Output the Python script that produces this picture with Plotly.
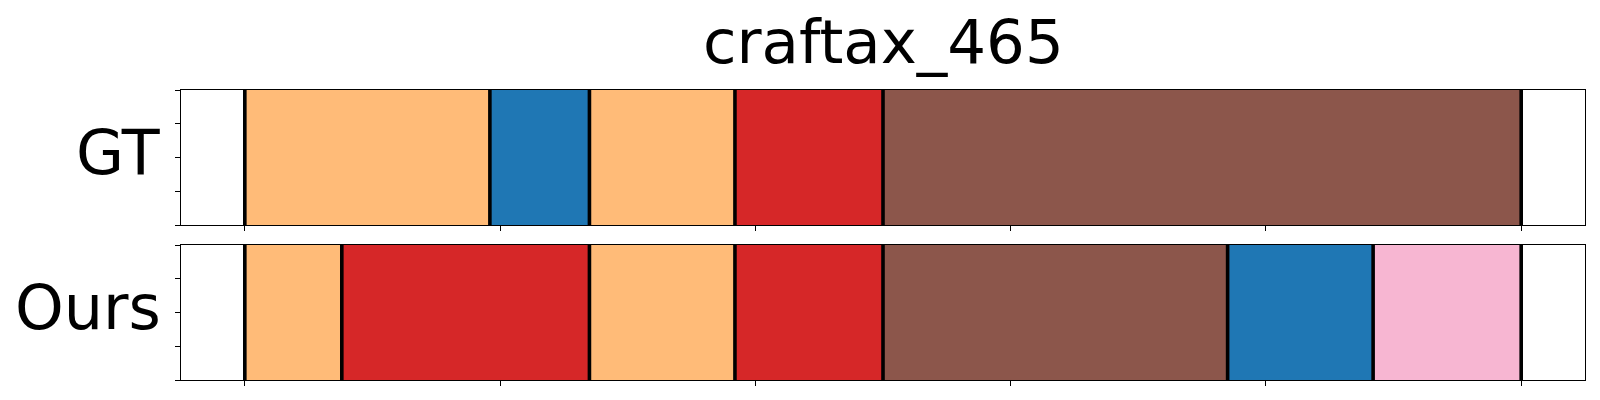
import plotly.graph_objects as go

title_text = "craftax_465"
row_labels = ["GT", "Ours"]

gt_starts = [0, 96, 135, 192, 250]
gt_ends = [96, 135, 192, 250, 500]
gt_colors = ["#ffbb78", "#1f77b4", "#ffbb78", "#d62728", "#8c564b"]

ours_starts = [0, 38, 135, 192, 250, 385, 442]
ours_ends = [38, 135, 192, 250, 385, 442, 500]
ours_colors = ["#ffbb78", "#d62728", "#ffbb78", "#d62728", "#8c564b", "#1f77b4", "#f7b6d2"]

x_ticks = [0, 100, 200, 300, 400, 500]
y_ticks = [0, 0.25, 0.5, 0.75, 1.0]

W, H = 1600, 400
left, right = 181, 1585
panels = [
    ("x", "y", gt_starts, gt_ends, gt_colors, 90, 225),
    ("x2", "y2", ours_starts, ours_ends, ours_colors, 245, 380),
]

fig = go.Figure()
layout = {}
for i, (xa, ya, starts, ends, colors, top, bot) in enumerate(panels):
    lengths = [e - s for s, e in zip(starts, ends)]
    fig.add_trace(go.Bar(
        orientation="h", y=[0.5] * len(starts), x=lengths, base=starts,
        width=1, marker=dict(color=colors, line=dict(width=0)),
        xaxis=xa, yaxis=ya, showlegend=False, hoverinfo="skip"))
    bounds = sorted(set(starts + ends))
    lx, ly = [], []
    for b in bounds:
        lx += [b, b, None]
        ly += [0, 1, None]
    fig.add_trace(go.Scatter(
        x=lx, y=ly, mode="lines", line=dict(color="black", width=3.6),
        xaxis=xa, yaxis=ya, showlegend=False, hoverinfo="skip"))
    sfx = "" if i == 0 else str(i + 1)
    layout["xaxis" + sfx] = dict(
        domain=[left / W, right / W], range=[-25, 525], tickvals=x_ticks,
        showticklabels=False, ticks="outside", ticklen=5, tickwidth=1,
        tickcolor="black", showline=True, linecolor="black", linewidth=1,
        mirror=True, showgrid=False, zeroline=False,
        anchor=ya)
    layout["yaxis" + sfx] = dict(
        domain=[1 - bot / H, 1 - top / H], range=[0, 1], tickvals=y_ticks,
        showticklabels=False, ticks="outside", ticklen=5, tickwidth=1,
        tickcolor="black", showline=True, linecolor="black", linewidth=1,
        mirror=True, showgrid=False, zeroline=False, anchor=xa)
    fig.add_annotation(
        text=row_labels[i], xref="paper", yref="paper",
        x=left / W, xshift=-18, xanchor="right",
        y=1 - ((top + bot) / 2 - 5) / H, yanchor="middle",
        showarrow=False, font=dict(size=62, color="black", family="DejaVu Sans"))

fig.add_annotation(
    text=title_text, xref="paper", yref="paper",
    x=(left + right) / 2 / W, xanchor="center",
    y=1 - 42 / H, yanchor="middle", showarrow=False,
    font=dict(size=61, color="black", family="DejaVu Sans"))

fig.update_layout(
    width=W, height=H, margin=dict(l=0, r=0, t=0, b=0),
    plot_bgcolor="white", paper_bgcolor="white", barmode="overlay",
    font=dict(family="DejaVu Sans"), **layout)

fig.write_html("out.html", config={"displayModeBar": False},
               post_script="document.body.style.margin='0';document.body.style.overflow='hidden';")
